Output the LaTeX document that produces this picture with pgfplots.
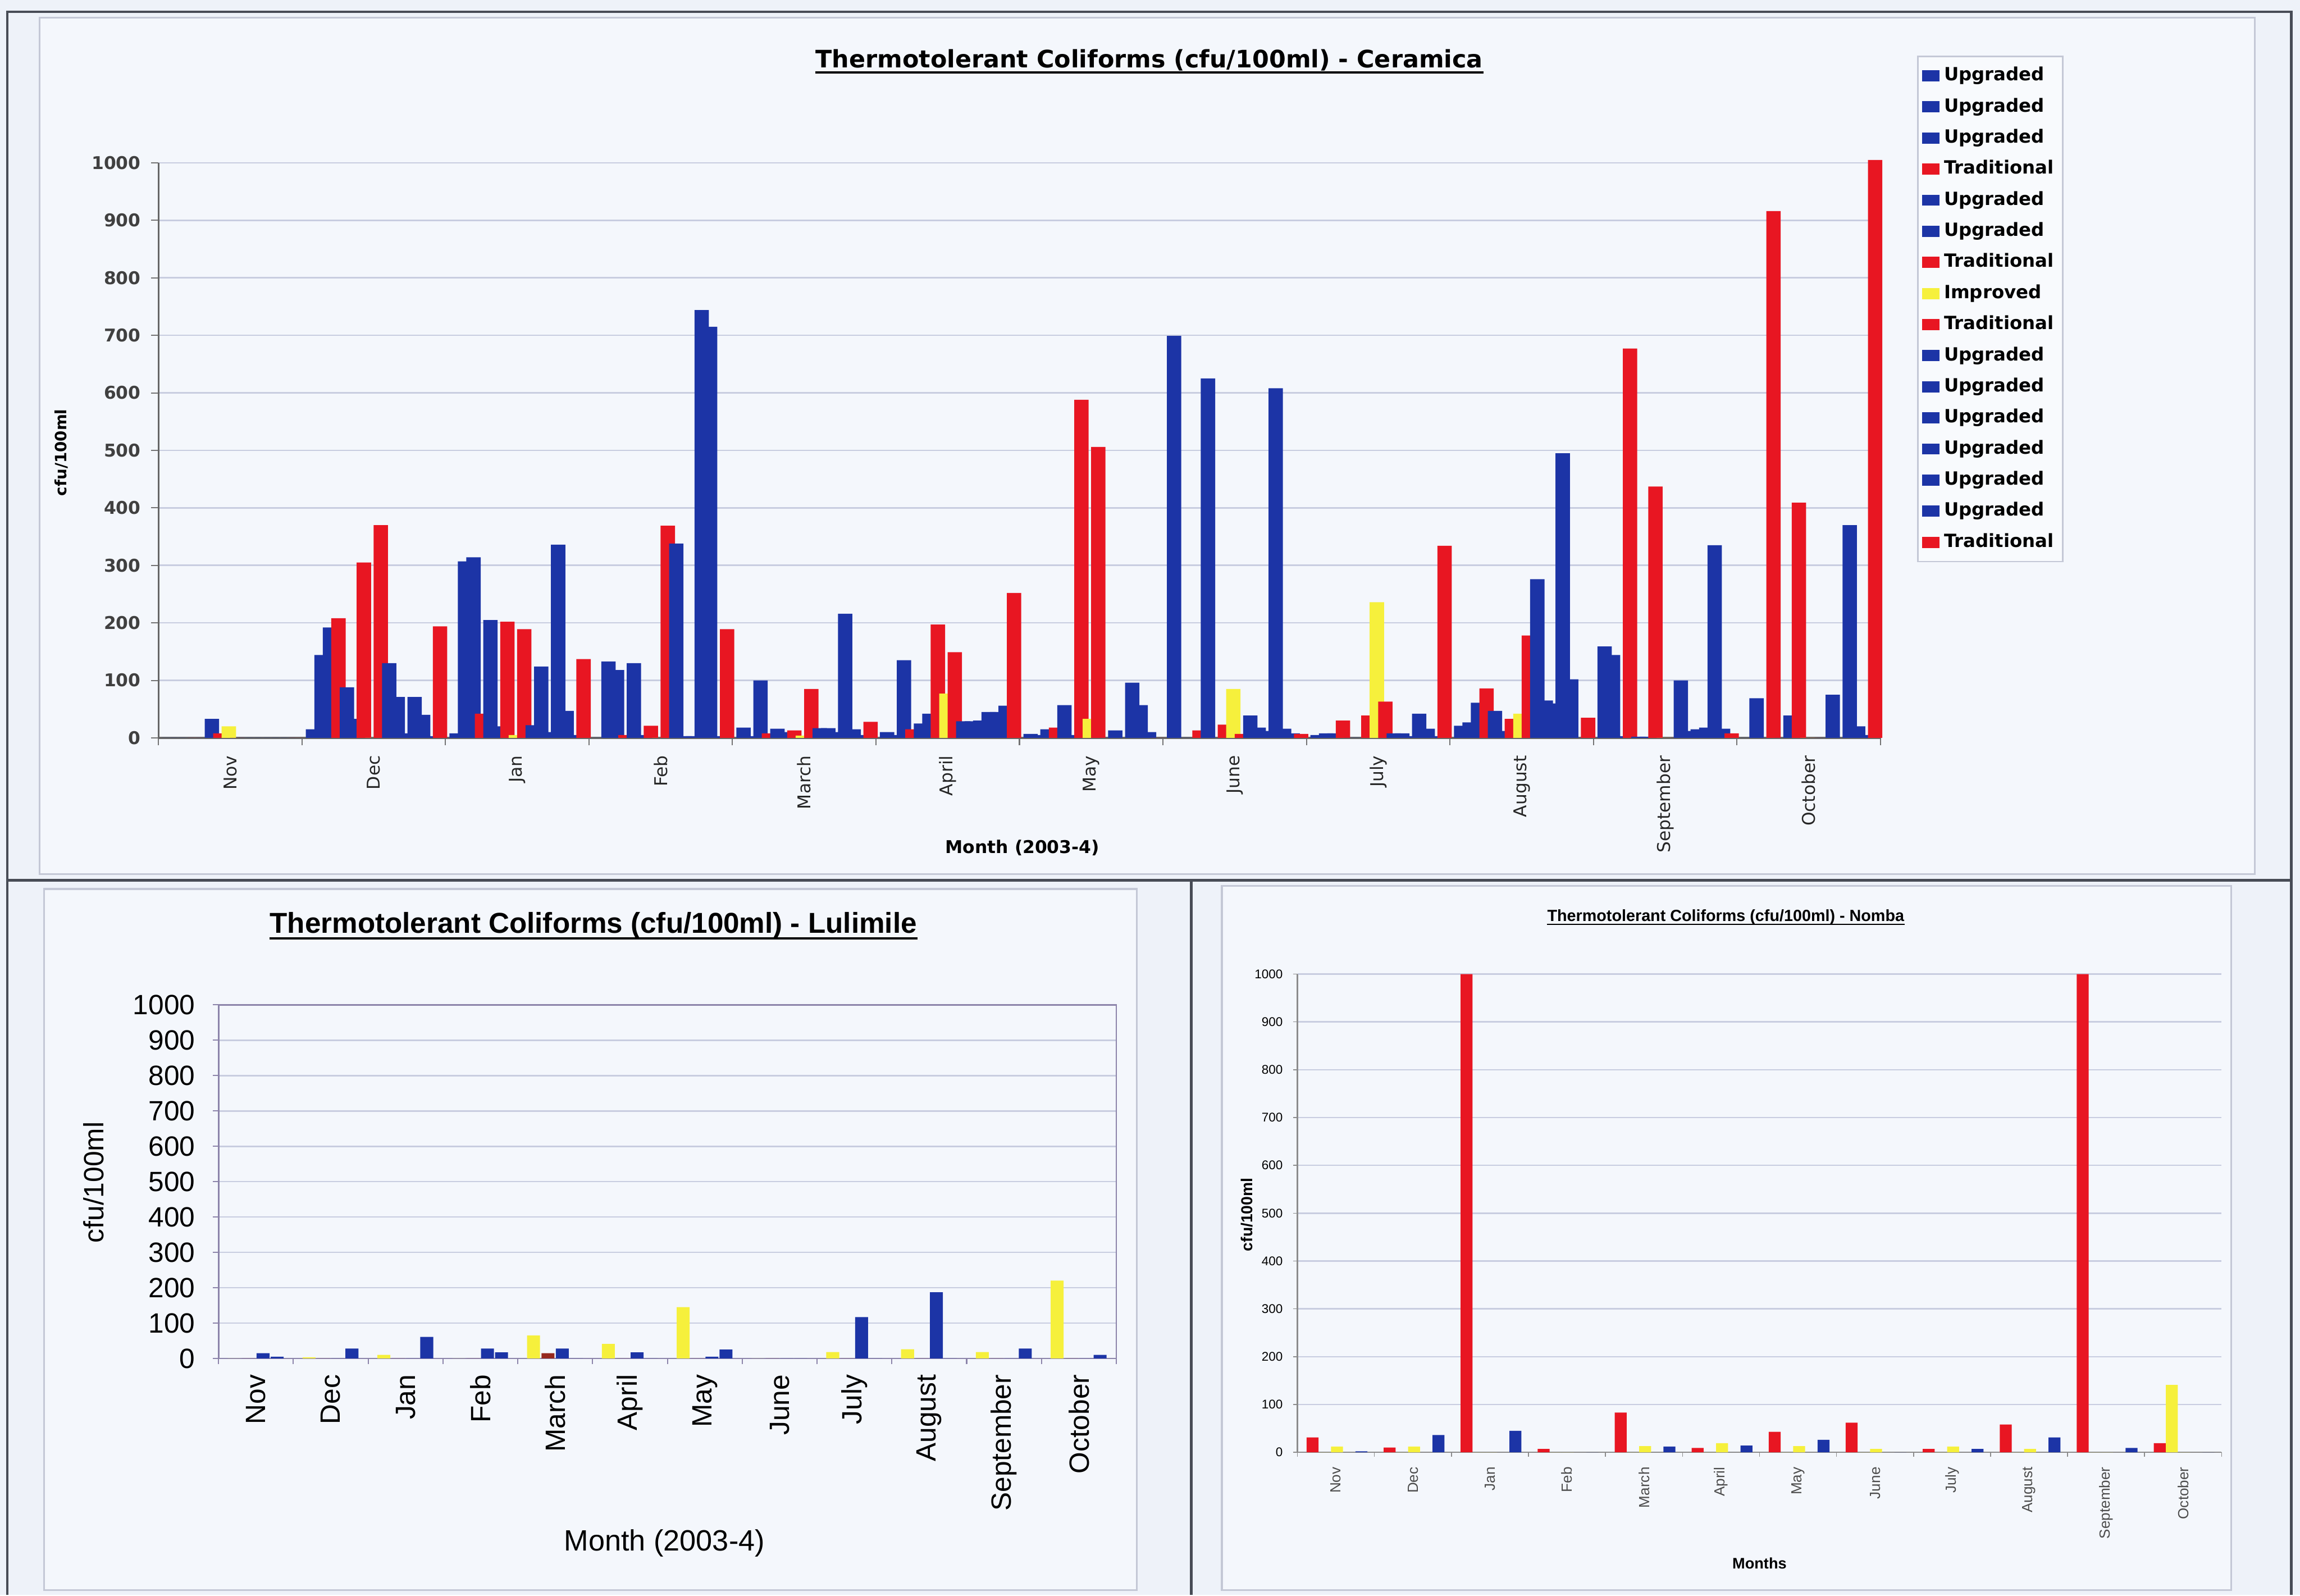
\documentclass[border=0pt]{standalone}
\usepackage{pgfplots}
\pgfplotsset{compat=1.18}
\usepackage{pgfplotstable}
\usepackage{fontspec}
\setmainfont{Liberation Sans}
\newfontfamily\dv{DejaVu Sans}

\definecolor{upg}{RGB}{28,52,166}
\definecolor{trad}{RGB}{232,22,34}
\definecolor{impr}{RGB}{246,240,60}
\definecolor{tradd}{RGB}{150,40,30}
\definecolor{pagebg}{RGB}{238,242,249}
\definecolor{chartbg}{RGB}{244,247,252}
\definecolor{gridc}{RGB}{200,205,224}
\definecolor{framec}{RGB}{196,200,214}
\definecolor{sepc}{RGB}{72,76,86}
\definecolor{boxc}{RGB}{140,132,170}

% Ceramica: 16 sampling points per month (s0..s15)
\pgfplotstableread{
m s0 s1 s2 s3 s4 s5 s6 s7 s8 s9 s10 s11 s12 s13 s14 s15
0 0 0 0 0 0 33 8 20 0 0 0 0 0 0 0 0
1 15 144 192 208 88 33 305 0 370 130 71 8 71 40 3 194
2 8 307 314 42 205 20 202 5 189 22 124 10 336 47 5 137
3 0 133 118 5 130 5 21 0 369 338 3 3 744 715 3 189
4 18 3 100 8 16 10 13 4 85 17 17 10 216 15 5 28
5 10 5 135 15 25 42 197 77 149 29 29 30 45 45 56 252
6 7 5 15 18 57 5 588 33 506 0 13 0 96 57 10 0
7 699 0 0 13 625 0 23 85 7 39 18 12 608 16 8 7
8 5 8 8 30 0 0 39 236 63 8 8 3 42 16 3 334
9 21 27 61 86 47 12 33 42 178 276 65 60 495 102 0 35
10 159 144 3 677 2 2 437 0 0 100 12 15 18 335 16 8
11 0 69 0 916 0 39 409 0 0 0 75 0 370 20 5 1005
}\ceramica

% Lulimile: improved, traditional, upgraded, upgraded
\pgfplotstableread{
m y t b1 b2
0 0 0 15 5
1 3 0 0 28
2 10 0 0 61
3 0 0 28 17
4 65 15 28 0
5 41 0 17 0
6 145 0 5 25
7 0 0 0 0
8 18 0 117 0
9 26 0 187 0
10 18 0 0 28
11 220 0 0 10
}\lulimile

% Nomba: traditional, improved, improved, (unused), upgraded
\pgfplotstableread{
m t y1 y2 b
0 31 0 12 2
1 10 0 12 36
2 1000 0 0 45
3 7 0 0 0
4 83 0 13 12
5 9 0 19 14
6 43 0 13 26
7 62 0 7 0
8 7 0 12 7
9 58 0 7 31
10 1000 0 0 9
11 19 141 0 0
}\nomba

\pgfplotsset{
  /pgf/number format/assume math mode=true,
  /pgf/number format/1000 sep={},
  monthaxis/.style={
    anchor=south west, scale only axis,
    xmin=-0.5, xmax=11.5, ymin=0, ymax=1000,
    ytick={0,100,...,1000},
    ymajorgrids, grid style={draw=gridc, line width=0.5pt},
    xtick={0,...,11},
    xticklabels={Nov,Dec,Jan,Feb,March,April,May,June,July,August,September,October},
    minor xtick={-0.5,0.5,...,11.5},
    major x tick style={draw=none},
    tick align=outside, tick pos=left,
    x tick label style={rotate=90, anchor=east},
  },
  cbar/.style={ybar, draw=none, fill=#1, bar width=0.1},
}

\begin{document}
\begin{tikzpicture}
% page and panel frames
\fill[pagebg] (0pt,0pt) rectangle (784pt,543.5pt);
\filldraw[fill=chartbg, draw=framec, line width=0.6pt] (13.5pt,245.5pt) rectangle (768.5pt,537.5pt);
\filldraw[fill=chartbg, draw=framec, line width=0.6pt] (15pt,1.5pt) rectangle (387.5pt,240.5pt);
\filldraw[fill=chartbg, draw=framec, line width=0.6pt] (416.5pt,1.5pt) rectangle (760.5pt,241.5pt);
\draw[sepc, line width=0.9pt] (2.5pt,0pt) -- (2.5pt,539.5pt) -- (781pt,539.5pt) -- (781pt,0pt);
\draw[sepc, line width=0.9pt] (2.5pt,243.5pt) -- (781pt,243.5pt);
\draw[sepc, line width=0.9pt] (406pt,243.5pt) -- (406pt,0pt);

% ---- Ceramica ----
\begin{axis}[monthaxis,
  at={(54pt,292pt)}, width=587pt, height=196pt,
  clip=false,
  axis x line*=bottom, axis y line*=left,
  axis line style={draw=black!60, line width=0.6pt},
  major tick length=2.5pt, minor tick length=2.5pt,
  tick style={draw=black!55, line width=0.4pt},
  x tick label style={font=\dv\fontsize{6}{7}\selectfont, text=black!85},
  y tick label style={font=\dv\bfseries\fontsize{6}{7}\selectfont, text=black!75},
  legend cell align=left,
  legend style={at={(1.0213,1.186)}, anchor=north west,
    draw=framec, fill=chartbg!60!white, line width=0.5pt,
    font=\dv\bfseries\fontsize{6.2}{7}\selectfont,
    inner xsep=1.5pt, inner ysep=2pt, row sep=1.5pt,
    nodes={inner sep=1.6pt, text height=4.6pt, text depth=1.3pt},
    /tikz/every even column/.append style={column sep=0pt}},
  legend image code/.code={\fill[#1] (0pt,-1.9pt) rectangle (5.8pt,1.9pt);},
]
\addplot[cbar=upg,  bar shift=-0.4225] table[x=m,y=s0]  {\ceramica};
\addplot[cbar=upg,  bar shift=-0.3635] table[x=m,y=s1]  {\ceramica};
\addplot[cbar=upg,  bar shift=-0.3045] table[x=m,y=s2]  {\ceramica};
\addplot[cbar=trad, bar shift=-0.2455] table[x=m,y=s3]  {\ceramica};
\addplot[cbar=upg,  bar shift=-0.1865] table[x=m,y=s4]  {\ceramica};
\addplot[cbar=upg,  bar shift=-0.1275] table[x=m,y=s5]  {\ceramica};
\addplot[cbar=trad, bar shift=-0.0685] table[x=m,y=s6]  {\ceramica};
\addplot[cbar=impr, bar shift=-0.0095] table[x=m,y=s7]  {\ceramica};
\addplot[cbar=trad, bar shift=0.0495]  table[x=m,y=s8]  {\ceramica};
\addplot[cbar=upg,  bar shift=0.1085]  table[x=m,y=s9]  {\ceramica};
\addplot[cbar=upg,  bar shift=0.1675]  table[x=m,y=s10] {\ceramica};
\addplot[cbar=upg,  bar shift=0.2265]  table[x=m,y=s11] {\ceramica};
\addplot[cbar=upg,  bar shift=0.2855]  table[x=m,y=s12] {\ceramica};
\addplot[cbar=upg,  bar shift=0.3445]  table[x=m,y=s13] {\ceramica};
\addplot[cbar=upg,  bar shift=0.4035]  table[x=m,y=s14] {\ceramica};
\addplot[cbar=trad, bar shift=0.4625]  table[x=m,y=s15] {\ceramica};
\legend{Upgraded,Upgraded,Upgraded,Traditional,Upgraded,Upgraded,Traditional,Improved,Traditional,Upgraded,Upgraded,Upgraded,Upgraded,Upgraded,Upgraded,Traditional}
\end{axis}
\node[inner sep=0pt, font=\dv\bfseries\fontsize{8.2}{9}\selectfont] (t1) at (391.75pt,523pt) {Thermotolerant Coliforms (cfu/100ml) - Ceramica};
\draw[line width=0.8pt] ([yshift=-1.7pt]t1.base west) -- ([yshift=-1.7pt]t1.base east);
\node[rotate=90, font=\dv\bfseries\fontsize{5.3}{6}\selectfont] at (21pt,389.25pt) {cfu/100ml};
\node[font=\dv\bfseries\fontsize{6}{7}\selectfont] at (348.5pt,254.5pt) {Month (2003-4)};

% ---- Lulimile ----
\begin{axis}[monthaxis,
  at={(74.5pt,80.5pt)}, width=306pt, height=120.5pt,
  axis line style={draw=boxc, line width=0.5pt},
  major tick length=2pt, minor tick length=2pt,
  tick style={draw=boxc, line width=0.4pt},
  x tick label style={font=\fontsize{9.5}{11}\selectfont},
  y tick label style={font=\fontsize{9.5}{11}\selectfont, xshift=-2.5pt},
]
\addplot[cbar=impr,  bar width=0.173, bar shift=-0.29]  table[x=m,y=y]  {\lulimile};
\addplot[cbar=tradd, bar width=0.173, bar shift=-0.097] table[x=m,y=t]  {\lulimile};
\addplot[cbar=upg,   bar width=0.173, bar shift=0.095]  table[x=m,y=b1] {\lulimile};
\addplot[cbar=upg,   bar width=0.173, bar shift=0.283]  table[x=m,y=b2] {\lulimile};
\end{axis}
\node[inner sep=0pt, font=\bfseries\fontsize{9.8}{11}\selectfont] (t2) at (202.25pt,228pt) {Thermotolerant Coliforms (cfu/100ml) - Lulimile};
\draw[line width=0.8pt] ([yshift=-1.8pt]t2.base west) -- ([yshift=-1.8pt]t2.base east);
\node[rotate=90, font=\fontsize{9.5}{11}\selectfont] at (32pt,140.5pt) {cfu/100ml};
\node[font=\fontsize{10}{12}\selectfont] at (226.5pt,17.5pt) {Month (2003-4)};

% ---- Nomba ----
\begin{axis}[monthaxis,
  at={(442.25pt,48.5pt)}, width=315pt, height=163pt,
  axis x line*=bottom, axis y line*=left,
  axis line style={draw=black!45, line width=0.5pt},
  major tick length=1.5pt, minor tick length=1.5pt,
  tick style={draw=black!45, line width=0.3pt},
  x tick label style={font=\fontsize{5}{6}\selectfont, text=black!70},
  y tick label style={font=\fontsize{4.3}{5}\selectfont},
]
\addplot[cbar=trad, bar width=0.155, bar shift=-0.303] table[x=m,y=t]  {\nomba};
\addplot[cbar=impr, bar width=0.155, bar shift=-0.145] table[x=m,y=y1] {\nomba};
\addplot[cbar=impr, bar width=0.155, bar shift=0.014]  table[x=m,y=y2] {\nomba};
\addplot[cbar=upg,  bar width=0.155, bar shift=0.331]  table[x=m,y=b]  {\nomba};
\end{axis}
\node[inner sep=0pt, font=\bfseries\fontsize{5.5}{6}\selectfont] (t3) at (588.25pt,231pt) {Thermotolerant Coliforms (cfu/100ml) - Nomba};
\draw[line width=0.5pt] ([yshift=-1.1pt]t3.base west) -- ([yshift=-1.1pt]t3.base east);
\node[rotate=90, font=\bfseries\fontsize{5.4}{6}\selectfont] at (425pt,129.5pt) {cfu/100ml};
\node[font=\bfseries\fontsize{5.2}{6}\selectfont] at (599.75pt,10.7pt) {Months};
\end{tikzpicture}
\end{document}
